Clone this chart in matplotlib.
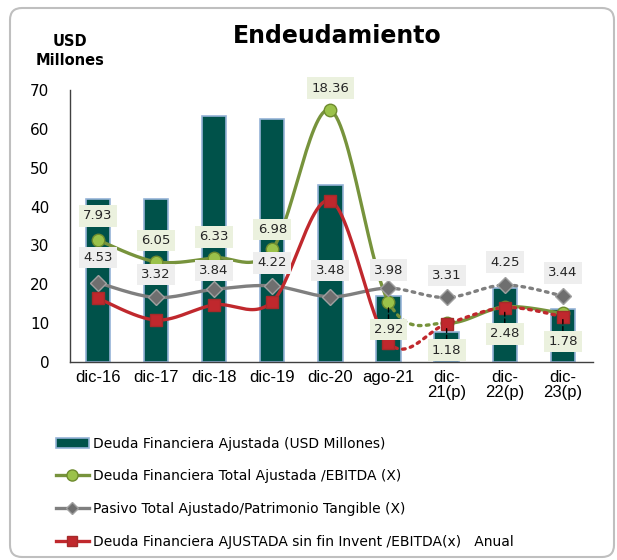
import numpy as np
import matplotlib
matplotlib.use("Agg")
import matplotlib.pyplot as plt
from matplotlib.lines import Line2D
from matplotlib.patches import Patch, FancyBboxPatch

categorias = ["dic-16", "dic-17", "dic-18", "dic-19", "dic-20", "ago-21",
              "dic-\n21(p)", "dic-\n22(p)", "dic-\n23(p)"]
deuda_usd = [42.0, 42.0, 63.2, 62.5, 45.5, 17.0, 7.8, 19.0, 13.6]

# las líneas van sobre el eje en USD; las etiquetas muestran el múltiplo (X)
deuda_ebitda_pos = [31.4, 25.8, 26.8, 29.0, 64.8, 15.5, 10.0, 14.2, 12.5]
deuda_ebitda_lbl = ["7.93", "6.05", "6.33", "6.98", "18.36", "2.92", "1.18", "2.48", "1.78"]
pasivo_pos = [20.4, 16.6, 18.7, 19.6, 16.8, 19.0, 16.6, 19.8, 17.0]
pasivo_lbl = ["4.53", "3.32", "3.84", "4.22", "3.48", "3.98", "3.31", "4.25", "3.44"]
sin_invent_pos = [16.4, 10.8, 14.7, 15.5, 41.5, 5.0, 9.8, 14.0, 11.7]

# desplazamiento vertical de las etiquetas (pixeles, + arriba)
off_verde = [24, 21, 21, 20, 22, -28, -27, -27, -28]
off_gris = [25, 23, 19, 23, 26, 18, 22, 23, 23]

VERDE, GRIS, ROJO = "#77933C", "#7F7F7F", "#C0282D"
BARRA, BORDE = "#00524A", "#95B3D7"


def tramo(y, a, b, n=30):
    """curva suavizada (bezier tipo Excel) entre los puntos a..b"""
    p = np.column_stack([np.arange(len(y), dtype=float), np.asarray(y, float)])
    t = np.linspace(0, 1, n)[:, None]
    out = []
    for i in range(a, b):
        p0 = p[i - 1] if i > 0 else p[i]
        p3 = p[i + 2] if i + 2 < len(p) else p[i + 1]
        c1 = p[i] + (p[i + 1] - p0) / 6
        c2 = p[i + 1] - (p3 - p[i]) / 6
        seg = ((1 - t) ** 3 * p[i] + 3 * (1 - t) ** 2 * t * c1
               + 3 * (1 - t) * t ** 2 * c2 + t ** 3 * p[i + 1])
        out.append(seg if i == a else seg[1:])
    s = np.vstack(out)
    return s[:, 0], s[:, 1]


fig = plt.figure(figsize=(6.17, 5.6), dpi=100)
ax = fig.add_axes([70 / 617, 1 - 362 / 560, 522.5 / 617, 272 / 560])
x = np.arange(len(categorias))

ax.bar(x, deuda_usd, width=0.42, color=BARRA, edgecolor=BORDE, linewidth=1.2, zorder=1)

punteado = (0, (0.8, 1.6))
lw = 2.4
# verde: sólido, punteado ago-21 -> dic-21, sólido después
for a, b, ls in [(0, 5, "-"), (5, 6, punteado), (6, 8, "-")]:
    ax.plot(*tramo(deuda_ebitda_pos, a, b), color=VERDE, lw=lw, ls=ls,
            solid_capstyle="round", dash_capstyle="round", zorder=3)
for a, b, ls in [(0, 5, "-"), (5, 8, punteado)]:
    ax.plot(*tramo(pasivo_pos, a, b), color=GRIS, lw=lw, ls=ls,
            solid_capstyle="round", dash_capstyle="round", zorder=3)
    ax.plot(*tramo(sin_invent_pos, a, b), color=ROJO, lw=lw, ls=ls,
            solid_capstyle="round", dash_capstyle="round", zorder=3.2)

ax.plot(x, deuda_ebitda_pos, ls="none", marker="o", ms=9, mfc="#9BC24A",
        mec="#6E8B2E", mew=1, zorder=4)
ax.plot(x, pasivo_pos, ls="none", marker="D", ms=8.5, mfc="#6F6F6F",
        mec="#A0A0A0", mew=1, zorder=4)
ax.plot(x, sin_invent_pos, ls="none", marker="s", ms=8, mfc=ROJO,
        mec="#A52A2A", mew=1, zorder=4.2)

for i in range(len(x)):
    conector = None
    if i >= 5:
        conector = dict(arrowstyle="-", ls=(0, (3, 2)), color="black", lw=1,
                        shrinkA=0, shrinkB=4)
    ax.annotate(deuda_ebitda_lbl[i], (x[i], deuda_ebitda_pos[i]),
                xytext=(0, off_verde[i]), textcoords="offset pixels",
                ha="center", va="center", fontsize=9.5, color="#262626",
                bbox=dict(boxstyle="square,pad=0.32", fc="#EBF1DE", ec="none"),
                arrowprops=conector, zorder=5)
    ax.annotate(pasivo_lbl[i], (x[i], pasivo_pos[i]),
                xytext=(0, off_gris[i]), textcoords="offset pixels",
                ha="center", va="center", fontsize=9.5, color="#262626",
                bbox=dict(boxstyle="square,pad=0.32", fc="#EEEEEE", ec="none"),
                zorder=5)

ax.set_xlim(-0.48, 8.51)
ax.set_ylim(0, 70)
ax.set_yticks(range(0, 71, 10))
ax.set_xticks(x)
ax.set_xticklabels(categorias, fontsize=12, family="Liberation Sans", linespacing=1.0)
ax.tick_params(axis="y", length=0, pad=15, labelsize=11)
ax.tick_params(axis="x", length=0, pad=6)
for s in ["top", "right"]:
    ax.spines[s].set_visible(False)
for s in ["left", "bottom"]:
    ax.spines[s].set_color("#404040")
    ax.spines[s].set_linewidth(1)

fig.text(337 / 617, 1 - 36 / 560, "Endeudamiento", ha="center", va="center",
         fontsize=17, fontweight="bold")
fig.text(70 / 617, 1 - 51 / 560, "USD\nMillones", ha="center", va="center",
         fontsize=10.5, fontweight="bold", linespacing=1.3)

handles = [
    Patch(facecolor=BARRA, edgecolor=BORDE, linewidth=1.2),
    Line2D([], [], color=VERDE, lw=2.4, marker="o", ms=8, mfc="#9BC24A", mec="#6E8B2E"),
    Line2D([], [], color=GRIS, lw=2.4, marker="D", ms=6, mfc="#6F6F6F", mec="#A0A0A0"),
    Line2D([], [], color=ROJO, lw=2.4, marker="s", ms=7, mfc=ROJO, mec="#A52A2A"),
]
labels = [
    "Deuda Financiera Ajustada (USD Millones)",
    "Deuda Financiera Total Ajustada /EBITDA (X)",
    "Pasivo Total Ajustado/Patrimonio Tangible (X)",
    "Deuda Financiera AJUSTADA sin fin Invent /EBITDA(x)   Anual",
]
fig.legend(handles, labels, loc="upper left", bbox_to_anchor=(50 / 617, 1 - 431 / 560),
           frameon=False, fontsize=10, handlelength=2.4, handletextpad=0.3,
           labelspacing=1.35, borderaxespad=0)

marco = FancyBboxPatch((10, 3), 604, 549, boxstyle="round,pad=0,rounding_size=12",
                       transform=None, fc="none", ec="#BFBFBF", lw=1.5)
fig.patches.append(marco)

fig.savefig("out.png", dpi=100)
